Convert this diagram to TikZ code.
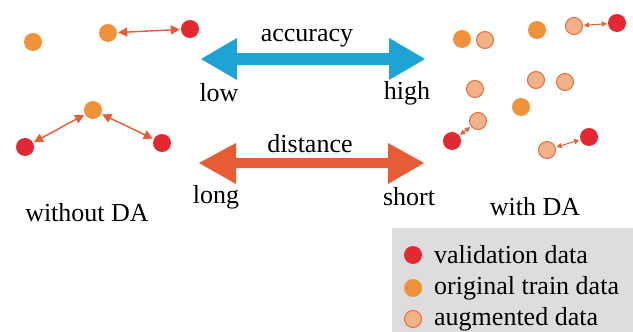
\documentclass[tikz,border=0pt]{standalone}
\usepackage{fontspec}
\setmainfont{Liberation Serif}
\usetikzlibrary{arrows.meta}
\definecolor{cred}{RGB}{227,40,50}
\definecolor{corange}{RGB}{240,146,58}
\definecolor{caugfill}{RGB}{242,178,136}
\definecolor{caugline}{RGB}{234,104,60}
\definecolor{cblue}{RGB}{31,163,212}
\definecolor{carrow}{RGB}{232,92,53}
\definecolor{cgray}{RGB}{221,221,221}
\tikzset{
  valdot/.style={circle,inner sep=0pt,minimum size=18pt,fill=cred},
  oridot/.style={circle,inner sep=0pt,minimum size=18pt,fill=corange},
  augdot/.style={circle,inner sep=0pt,minimum size=17pt,fill=caugfill,draw=caugline,line width=1pt},
  bigconn/.style={carrow,line width=1.4pt,{Triangle[length=9pt,width=9pt]}-{Triangle[length=9pt,width=9pt]},shorten <=1pt,shorten >=1pt},
  smallconn/.style={carrow,line width=1pt,{Triangle[length=5pt,width=5pt]}-{Triangle[length=5pt,width=5pt]},shorten <=1pt,shorten >=1pt},
  lbl/.style={font=\fontsize{26}{30}\selectfont,inner sep=0pt},
  leglbl/.style={font=\fontsize{26}{30}\selectfont,inner sep=0pt,anchor=west}
}
\begin{document}
\begin{tikzpicture}[x=1pt,y=-1pt]
\useasboundingbox (0,0) rectangle (633,332);
% legend background
\fill[cgray] (392,228) rectangle (633,332);
% without DA
\node[oridot] (o1) at (33,42) {};
\node[oridot] (o2) at (108,33) {};
\node[valdot] (v1) at (190,29) {};
\node[oridot] (o3) at (93,110) {};
\node[valdot] (v2) at (25,147) {};
\node[valdot] (v3) at (162,143) {};
\draw[bigconn] (o2) -- (v1);
\draw[bigconn] (o3) -- (v2);
\draw[bigconn] (o3) -- (v3);
\node[lbl] (wo) at (87,213) {without DA};
% with DA
\node[oridot] (o4) at (462,39) {};
\node[augdot] (a1) at (485,40) {};
\node[oridot] (o5) at (537,30) {};
\node[augdot] (a2) at (574,26) {};
\node[valdot] (v4) at (617,23) {};
\node[augdot] (a3) at (475,89) {};
\node[augdot] (a4) at (536,80) {};
\node[augdot] (a5) at (565,82) {};
\node[oridot] (o6) at (521,107) {};
\node[augdot] (a6) at (478,121) {};
\node[valdot] (v5) at (452,141) {};
\node[augdot] (a7) at (547,150) {};
\node[valdot] (v6) at (589,137) {};
\draw[smallconn] (a2) -- (v4);
\draw[smallconn] (v5) -- (a6);
\draw[smallconn] (a7) -- (v6);
\node[lbl] (wi) at (535,207) {with DA};
% big arrows
\fill[cblue] (201,59) -- (237,38) -- (237,53) -- (389,53) -- (389,38) -- (425,59)
  -- (389,80) -- (389,65) -- (237,65) -- (237,80) -- cycle;
\fill[carrow] (199,163) -- (236,143) -- (236,158) -- (388,158) -- (388,143) -- (424,163)
  -- (388,184) -- (388,168) -- (236,168) -- (236,184) -- cycle;
\node[lbl] (acc) at (307,38) {accuracy};
\node[lbl] (low) at (219,93) {low};
\node[lbl] (high) at (407,93) {high};
\node[lbl] (dist) at (310,144) {distance};
\node[lbl] (long) at (216,197) {long};
\node[lbl] (short) at (409,197) {short};
% legend
\node[valdot] (lv) at (413,255) {};
\node[oridot] (lo) at (413,288) {};
\node[augdot] (la) at (413,319) {};
\node[leglbl] (lvt) at (434,255) {validation data};
\node[leglbl] (lot) at (434,288) {original train data};
\node[leglbl] (lat) at (434,319) {augmented data};
\end{tikzpicture}
\end{document}
